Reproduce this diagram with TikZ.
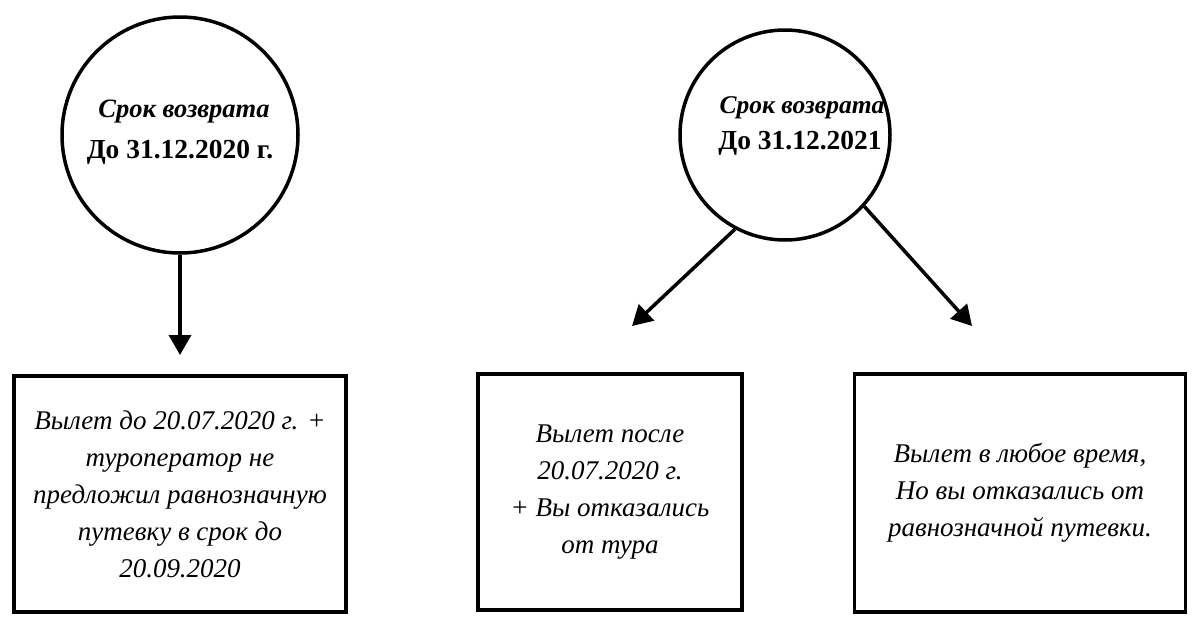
\documentclass[tikz,border=0pt]{standalone}
\usepackage{fontspec}
\setmainfont{Liberation Serif}
\usetikzlibrary{arrows.meta}
\begin{document}
\begin{tikzpicture}[x=1pt,y=-1pt,
  circ/.style={draw,line width=3.5pt,circle,inner sep=0pt,align=center},
  t1/.style={font=\fontsize{26.5}{28}\selectfont\bfseries\itshape},
  t2/.style={font=\fontsize{27.5}{30}\selectfont\bfseries},
  boxn/.style={draw,line width=3.5pt,inner sep=0pt,align=center,font=\fontsize{27}{37}\selectfont\itshape},
  arr/.style={line width=3.5pt,-{Triangle[length=20pt,width=22pt]}}]
\useasboundingbox (0,0) rectangle (1200,632);
\node[circ,minimum size=236pt] (c1) at (180,135) {};
\node[circ,minimum size=210pt] (c2) at (785,135) {};
\node[t1] (s1) at (184,112) {Срок возврата};
\node[t2] (d1) at (180,152) {До 31.12.2020 г.};
\node[t1,font=\fontsize{25.5}{28}\selectfont\bfseries\itshape] (s2) at (802,108) {Срок возврата};
\node[t2] (d2) at (800,143) {До 31.12.2021};
\node[boxn,minimum width=332pt,minimum height=236pt] (b1) at (180,494) {Вылет до 20.07.2020 г. +\\туроператор не\\предложил равнозначную\\путевку в срок до\\20.09.2020};
\node[boxn,minimum width=264pt,minimum height=236pt] (b2) at (610,492) {Вылет после\\20.07.2020 г.\\+ Вы отказались\\от тура};
\node[boxn,minimum width=331pt,minimum height=238pt] (b3) at (1020,493) {Вылет в любое время,\\Но вы отказались от\\равнозначной путевки.};
\coordinate (a1) at (180,355);
\coordinate (a2) at (632,326);
\coordinate (a3) at (972,326);
\draw[arr] (c1.south) -- (a1);
\draw[arr] (c2.-118) -- (a2);
\draw[arr] (c2.-42) -- (a3);
\end{tikzpicture}
\end{document}
